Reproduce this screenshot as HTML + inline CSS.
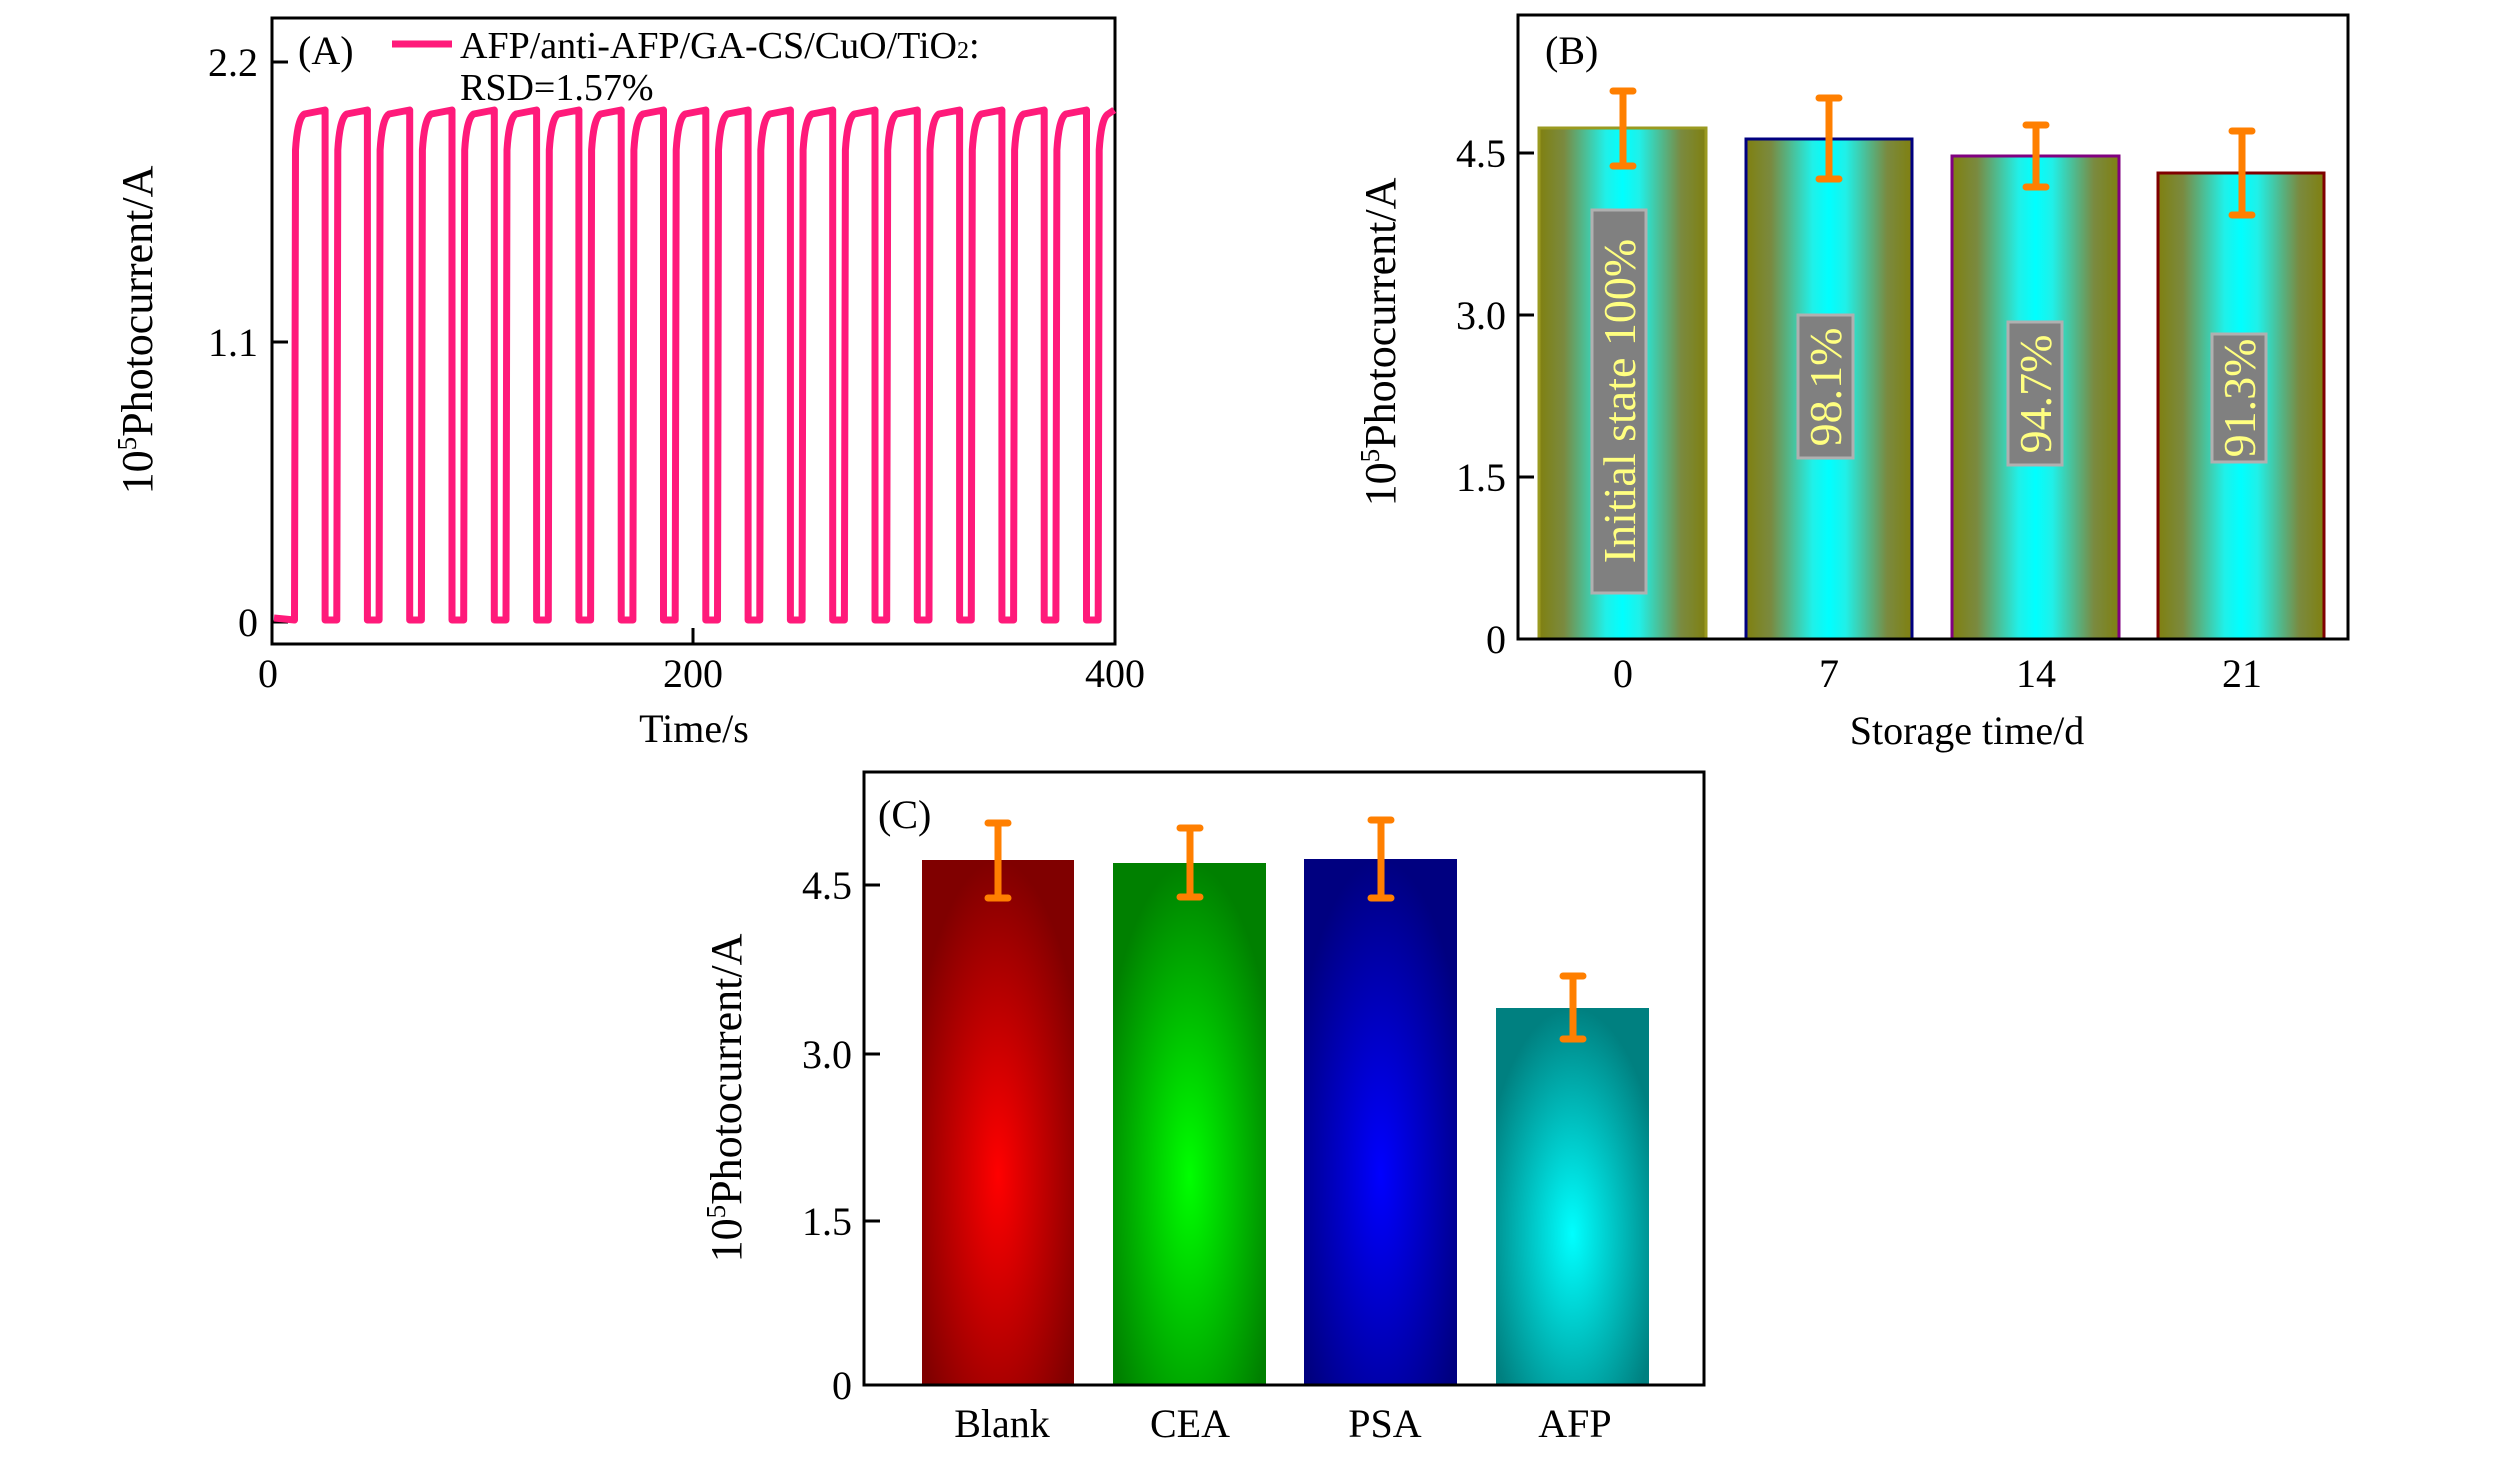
<!DOCTYPE html>
<html><head><meta charset="utf-8"><style>html,body{margin:0;padding:0;background:#fff}svg{display:block}</style></head><body>
<svg width="2520" height="1458" viewBox="0 0 2520 1458" xmlns="http://www.w3.org/2000/svg" font-family="Liberation Serif, serif">
<defs>
<linearGradient id="gb" x1="0" x2="1" y1="0" y2="0">
<stop offset="0" stop-color="#808010"/><stop offset="0.15" stop-color="#7a8a40"/><stop offset="0.4" stop-color="#20f0e8"/><stop offset="0.5" stop-color="#00ffff"/><stop offset="0.6" stop-color="#20f0e8"/><stop offset="0.85" stop-color="#7a8a40"/><stop offset="1" stop-color="#808010"/>
</linearGradient>
<radialGradient id="gr" cx="0.5" cy="0.6" r="0.6"><stop offset="0" stop-color="#ff0000"/><stop offset="1" stop-color="#800000"/></radialGradient>
<radialGradient id="gg" cx="0.5" cy="0.6" r="0.6"><stop offset="0" stop-color="#00ff00"/><stop offset="1" stop-color="#008000"/></radialGradient>
<radialGradient id="gbl" cx="0.5" cy="0.6" r="0.6"><stop offset="0" stop-color="#0000ff"/><stop offset="1" stop-color="#000080"/></radialGradient>
<radialGradient id="gc" cx="0.5" cy="0.6" r="0.6"><stop offset="0" stop-color="#00ffff"/><stop offset="1" stop-color="#008080"/></radialGradient>
</defs>

<!-- Panel A -->
<rect x="272" y="18" width="843" height="626" fill="none" stroke="#000" stroke-width="3"/>
<g stroke="#000" stroke-width="3">
<line x1="272" y1="62" x2="288" y2="62"/><line x1="272" y1="342" x2="288" y2="342"/><line x1="272" y1="622" x2="288" y2="622"/>
<line x1="693" y1="644" x2="693" y2="628"/>
</g>
<g font-size="40" text-anchor="end" fill="#000">
<text x="258" y="76">2.2</text><text x="258" y="356">1.1</text><text x="258" y="636">0</text>
</g>
<g font-size="40" text-anchor="middle">
<text x="268" y="687">0</text><text x="693" y="687">200</text><text x="1115" y="687">400</text>
<text x="694" y="742">Time/s</text>
</g>
<text transform="translate(152,330) rotate(-90)" font-size="44" text-anchor="middle">10<tspan font-size="27" dy="-16">5</tspan><tspan dy="16">Photocurrent/A</tspan></text>
<text x="298" y="64" font-size="40">(A)</text>
<line x1="392" y1="44" x2="452" y2="44" stroke="#ff1a7a" stroke-width="7"/>
<text x="460" y="58" font-size="38">AFP/anti-AFP/GA-CS/CuO/TiO<tspan font-size="24">2</tspan>:</text>
<text x="460" y="100" font-size="38">RSD=1.57%</text>
<path fill="none" stroke="#ff1a7a" stroke-width="7" stroke-linejoin="round" d="M274 618 L294.5 620 l1 -470 q2 -32 9 -36 l20.6 -4 l0 510 L336.8 620 l1 -470 q2 -32 9 -36 l20.6 -4 l0 510 L379.1 620 l1 -470 q2 -32 9 -36 l20.6 -4 l0 510 L421.4 620 l1 -470 q2 -32 9 -36 l20.6 -4 l0 510 L463.7 620 l1 -470 q2 -32 9 -36 l20.6 -4 l0 510 L506 620 l1 -470 q2 -32 9 -36 l20.6 -4 l0 510 L548.3 620 l1 -470 q2 -32 9 -36 l20.6 -4 l0 510 L590.6 620 l1 -470 q2 -32 9 -36 l20.6 -4 l0 510 L632.9 620 l1 -470 q2 -32 9 -36 l20.6 -4 l0 510 L675.2 620 l1 -470 q2 -32 9 -36 l20.6 -4 l0 510 L717.5 620 l1 -470 q2 -32 9 -36 l20.6 -4 l0 510 L759.8 620 l1 -470 q2 -32 9 -36 l20.6 -4 l0 510 L802.1 620 l1 -470 q2 -32 9 -36 l20.6 -4 l0 510 L844.4 620 l1 -470 q2 -32 9 -36 l20.6 -4 l0 510 L886.7 620 l1 -470 q2 -32 9 -36 l20.6 -4 l0 510 L929 620 l1 -470 q2 -32 9 -36 l20.6 -4 l0 510 L971.3 620 l1 -470 q2 -32 9 -36 l20.6 -4 l0 510 L1013.6 620 l1 -470 q2 -32 9 -36 l20.6 -4 l0 510 L1055.9 620 l1 -470 q2 -32 9 -36 l20.6 -4 l0 510 L1098.2 620 l1 -470 q2 -32 9 -36 l6 -4"/>

<!-- Panel B -->
<g stroke-width="3">
<rect x="1539" y="128" width="167" height="511" fill="url(#gb)" stroke="#9a9a20"/>
<rect x="1746" y="139" width="166" height="500" fill="url(#gb)" stroke="#000080"/>
<rect x="1952" y="156" width="167" height="483" fill="url(#gb)" stroke="#800080"/>
<rect x="2158" y="173" width="166" height="466" fill="url(#gb)" stroke="#800000"/>
</g>
<g stroke="#ff7f00" stroke-width="7" stroke-linecap="round">
<path d="M1623 91V166M1613 91h20M1613 166h20"/>
<path d="M1829 98V179M1819 98h20M1819 179h20"/>
<path d="M2036 125V187M2026 125h20M2026 187h20"/>
<path d="M2242 131V215M2232 131h20M2232 215h20"/>
</g>
<g fill="#808080" stroke="#b0b0b0" stroke-width="3">
<rect x="1592" y="210" width="54" height="383"/><rect x="1798" y="315" width="55" height="143"/><rect x="2008" y="322" width="54" height="143"/><rect x="2212" y="334" width="54" height="128"/>
</g>
<g font-size="46" fill="#ffff80" text-anchor="middle">
<text transform="translate(1635,401) rotate(-90)">Initial state 100%</text>
<text transform="translate(1841,387) rotate(-90)">98.1%</text>
<text transform="translate(2051,394) rotate(-90)">94.7%</text>
<text transform="translate(2255,398) rotate(-90)">91.3%</text>
</g>
<rect x="1518" y="15" width="830" height="624" fill="none" stroke="#000" stroke-width="3"/>
<g stroke="#000" stroke-width="3">
<line x1="1518" y1="153" x2="1534" y2="153"/><line x1="1518" y1="315" x2="1534" y2="315"/><line x1="1518" y1="477" x2="1534" y2="477"/>
</g>
<g font-size="40" text-anchor="end">
<text x="1506" y="167">4.5</text><text x="1506" y="329">3.0</text><text x="1506" y="491">1.5</text><text x="1506" y="653">0</text>
</g>
<g font-size="40" text-anchor="middle">
<text x="1623" y="687">0</text><text x="1829" y="687">7</text><text x="2036" y="687">14</text><text x="2242" y="687">21</text>
<text x="1967" y="744">Storage time/d</text>
</g>
<text transform="translate(1395,342) rotate(-90)" font-size="44" text-anchor="middle">10<tspan font-size="27" dy="-16">5</tspan><tspan dy="16">Photocurrent/A</tspan></text>
<text x="1545" y="64" font-size="40">(B)</text>

<!-- Panel C -->
<rect x="922" y="860" width="152" height="525" fill="url(#gr)"/>
<rect x="1113" y="863" width="153" height="522" fill="url(#gg)"/>
<rect x="1304" y="859" width="153" height="526" fill="url(#gbl)"/>
<rect x="1496" y="1008" width="153" height="377" fill="url(#gc)"/>
<g stroke="#ff7f00" stroke-width="7" stroke-linecap="round">
<path d="M998 823V898M988 823h20M988 898h20"/>
<path d="M1190 828V897M1180 828h20M1180 897h20"/>
<path d="M1381 820V898M1371 820h20M1371 898h20"/>
<path d="M1573 976V1039M1563 976h20M1563 1039h20"/>
</g>
<rect x="864" y="772" width="840" height="613" fill="none" stroke="#000" stroke-width="3"/>
<g stroke="#000" stroke-width="3">
<line x1="864" y1="885" x2="880" y2="885"/><line x1="864" y1="1054" x2="880" y2="1054"/><line x1="864" y1="1221" x2="880" y2="1221"/>
</g>
<g font-size="40" text-anchor="end">
<text x="852" y="899">4.5</text><text x="852" y="1068">3.0</text><text x="852" y="1235">1.5</text><text x="852" y="1399">0</text>
</g>
<g font-size="40" text-anchor="middle">
<text x="1002" y="1437">Blank</text><text x="1190" y="1437">CEA</text><text x="1385" y="1437">PSA</text><text x="1575" y="1437">AFP</text>
</g>
<text transform="translate(741,1098) rotate(-90)" font-size="44" text-anchor="middle">10<tspan font-size="27" dy="-16">5</tspan><tspan dy="16">Photocurrent/A</tspan></text>
<text x="878" y="828" font-size="40">(C)</text>
</svg>
</body></html>
